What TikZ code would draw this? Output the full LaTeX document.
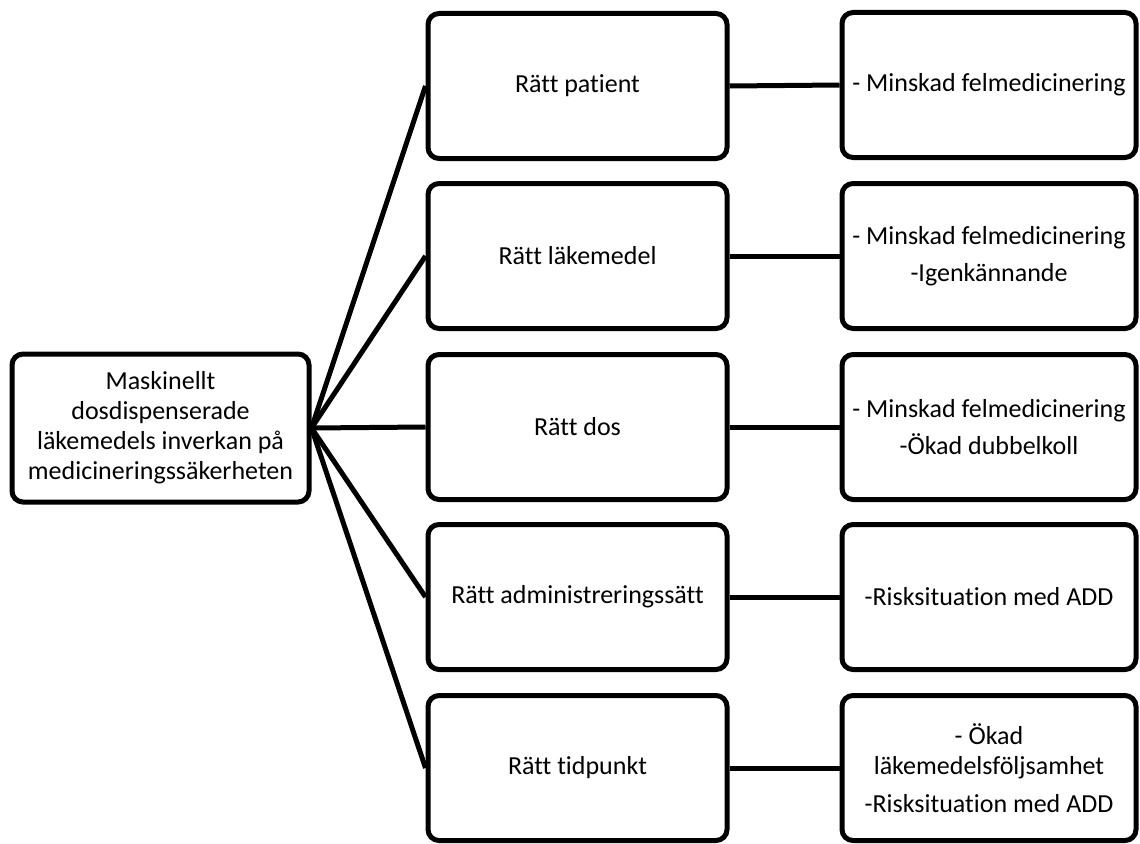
\documentclass[tikz,border=0pt]{standalone}
\usepackage{fontspec}
\setmainfont{Carlito}[Ligatures={NoCommon}]
\begin{document}
\begin{tikzpicture}[x=1pt,y=-1pt,
  box/.style={draw=black, line width=5pt, rounded corners=11pt, align=center,
    inner sep=0pt, font=\fontsize{26}{30}\selectfont, fill=white},
  leftbox/.style={box, minimum width=297pt, minimum height=148pt},
  midbox/.style={box, minimum width=299pt, minimum height=145pt},
  rightbox/.style={box, minimum width=294pt, minimum height=145pt},
  link/.style={line width=5pt}]
\useasboundingbox (0,0) rectangle (1140,843);
\node[leftbox] (root) at (160.5,428) {Maskinellt\\dosdispenserade\\läkemedels inverkan på\\medicineringssäkerheten};
\node[midbox] (m1) at (577.5,86) {Rätt patient};
\node[midbox] (m2) at (577.5,256) {Rätt läkemedel};
\node[midbox] (m3) at (577.5,427) {Rätt dos};
\node[midbox] (m4) at (577.5,597) {Rätt administreringssätt};
\node[midbox] (m5) at (577.5,768) {Rätt tidpunkt};
\node[rightbox] (r1) at (989,85) {- Minskad felmedicinering};
\node[rightbox] (r2) at (989,256) {- Minskad felmedicinering\\[7pt]-Igenkännande};
\node[rightbox] (r3) at (989,427) {- Minskad felmedicinering\\[7pt]-Ökad dubbelkoll};
\node[rightbox] (r4) at (989,597) {-Risksituation med ADD};
\node[rightbox] (r5) at (989,768) {- Ökad\\läkemedelsföljsamhet\\[8pt]-Risksituation med ADD};
\foreach \i in {1,...,5}{
  \draw[link] (root.east) -- (m\i.west);
  \draw[link] (m\i.east) -- (r\i.west);
}
\end{tikzpicture}
\end{document}
